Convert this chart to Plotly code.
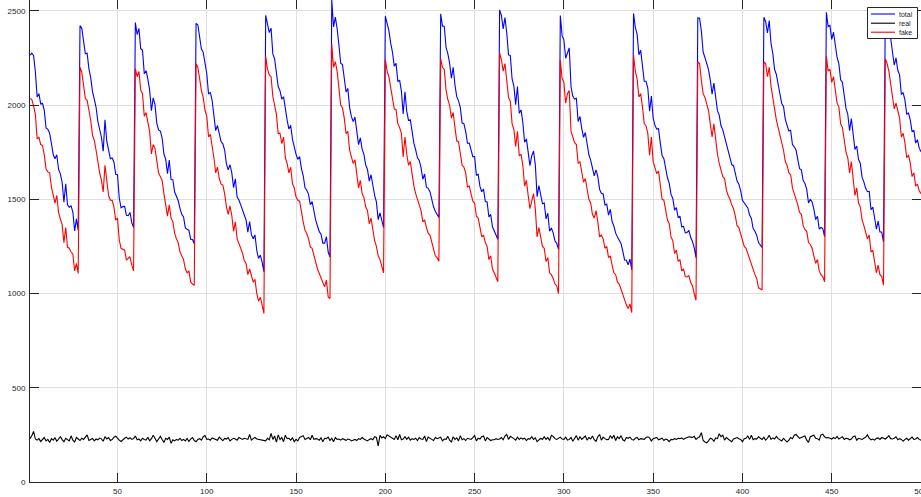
import plotly.graph_objects as go

# ---- data ----
# "fake" series, one list per sawtooth cycle (x = 1..500)
fake_c0 = [2034, 2030, 1995, 1950, 1820, 1830, 1790, 1785, 1735, 1660, 1645, 1640, 1565, 1515,
           1480, 1520, 1430, 1395, 1365, 1270, 1350, 1245, 1240, 1220, 1210, 1120, 1160, 1106]
fake_c1 = [2201, 2175, 2113, 2034, 2025, 1972, 1919, 1840, 1813, 1760, 1689, 1640, 1600, 1539,
           1680, 1580, 1520, 1495, 1494, 1460, 1389, 1400, 1283, 1240, 1235, 1230, 1177, 1185,
           1195, 1150, 1120]
fake_c2 = [2193, 2150, 2178, 2080, 2060, 1940, 1960, 1900, 1860, 1740, 1790, 1770, 1690, 1640,
           1620, 1600, 1530, 1480, 1410, 1470, 1400, 1380, 1320, 1290, 1270, 1220, 1200, 1180,
           1130, 1110, 1120, 1060, 1050, 1044]
fake_c3 = [2219, 2200, 2140, 2075, 2040, 1972, 1940, 1830, 1845, 1790, 1720, 1640, 1670, 1610,
           1580, 1575, 1530, 1460, 1420, 1465, 1415, 1330, 1380, 1290, 1260, 1240, 1215, 1175,
           1160, 1100, 1130, 1090, 1060, 1075, 1000, 960, 980, 940, 894]
fake_c4 = [2258, 2190, 2160, 2150, 2045, 2000, 1950, 1848, 1850, 1795, 1830, 1720, 1690, 1640,
           1670, 1583, 1560, 1512, 1494, 1490, 1424, 1380, 1336, 1318, 1290, 1247, 1240, 1200,
           1159, 1130, 1106, 1080, 1053, 1035, 1071, 982, 973]
fake_c5 = [2325, 2200, 2230, 2180, 2090, 2000, 1985, 1930, 1848, 1860, 1760, 1720, 1690, 1710,
           1640, 1560, 1600, 1530, 1510, 1460, 1440, 1370, 1400, 1340, 1280, 1250, 1200, 1180,
           1150, 1109]
fake_c6 = [2241, 2180, 2150, 2090, 2050, 1980, 1975, 1900, 1880, 1850, 1724, 1830, 1740, 1680,
           1700, 1630, 1570, 1530, 1500, 1470, 1440, 1380, 1390, 1350, 1320, 1310, 1270, 1240,
           1200, 1190, 1171]
fake_c7 = [2246, 2200, 2190, 2080, 2030, 2000, 1930, 1960, 1880, 1810, 1804, 1740, 1680, 1671,
           1640, 1565, 1570, 1530, 1490, 1480, 1410, 1400, 1340, 1300, 1310, 1270, 1250, 1180,
           1200, 1130, 1110, 1080, 1062]
fake_c8 = [2276, 2240, 2180, 2220, 2130, 2040, 2020, 1900, 1870, 1780, 1860, 1730, 1740, 1680,
           1570, 1600, 1520, 1450, 1490, 1530, 1450, 1300, 1350, 1290, 1250, 1240, 1170, 1190,
           1110, 1100, 1080, 1050, 1040, 1000]
fake_c9 = [2237, 2140, 2120, 2010, 2060, 2077, 1860, 1830, 1800, 1790, 1690, 1700, 1650, 1590,
           1610, 1560, 1500, 1480, 1420, 1400, 1440, 1380, 1300, 1310, 1290, 1240, 1250, 1190,
           1200, 1150, 1110, 1100, 1060, 1050, 1020, 1000, 960, 940, 920, 945, 899]
fake_c10 = [2264, 2180, 2140, 2043, 2060, 1990, 1900, 1890, 1850, 1733, 1830, 1700, 1660, 1636,
            1650, 1570, 1500, 1495, 1430, 1390, 1370, 1300, 1280, 1212, 1230, 1170, 1180, 1120,
            1130, 1090, 1088, 1095, 1060, 1040, 1000, 964]
fake_c11 = [2228, 2220, 2130, 2060, 2040, 2010, 1970, 1900, 1830, 1900, 1800, 1740, 1690, 1650,
            1620, 1610, 1550, 1520, 1500, 1470, 1450, 1410, 1360, 1350, 1320, 1280, 1250, 1240,
            1210, 1190, 1150, 1120, 1100, 1080, 1030, 1025, 1018]
fake_c12 = [2228, 2220, 2150, 2200, 2100, 2040, 1960, 1920, 1880, 1840, 1790, 1760, 1700, 1680,
            1640, 1630, 1560, 1530, 1510, 1470, 1430, 1420, 1360, 1340, 1330, 1270, 1260, 1240,
            1200, 1160, 1180, 1120, 1100, 1090, 1062]
fake_c13 = [2258, 2180, 2190, 2120, 2150, 2080, 2010, 1990, 1900, 1880, 1820, 1750, 1720, 1640,
            1700, 1610, 1520, 1560, 1480, 1460, 1390, 1360, 1320, 1290, 1310, 1220, 1230, 1180,
            1110, 1150, 1100, 1090, 1044]
fake_c14 = [2246, 2220, 2180, 2120, 2050, 1980, 2010, 1960, 1930, 1830, 1850, 1800, 1720, 1735,
            1690, 1620, 1640, 1570, 1580, 1545, 1530]

# "real" series (x = 1..500)
real = [
    230, 245, 268, 228, 222, 230, 215, 224, 236, 218, 226, 210, 230, 222, 235, 216, 228, 240, 225, 214, 232, 226, 218, 245, 222,
    212, 236, 228, 220, 232, 226, 238, 250, 220, 226, 231, 218, 228, 224, 233, 229, 216, 241, 228, 236, 220, 225, 238, 243, 230,
    222, 215, 226, 232, 238, 228, 235, 226, 230, 244, 224, 228, 218, 232, 226, 222, 237, 219, 230, 248, 232, 214, 228, 242, 225,
    210, 232, 226, 238, 205, 224, 218, 226, 222, 232, 220, 226, 218, 231, 215, 228, 236, 220, 214, 226, 230, 222, 240, 246, 226,
    228, 222, 234, 230, 224, 221, 238, 226, 219, 231, 228, 236, 218, 226, 232, 228, 222, 236, 230, 226, 232, 230, 226, 252, 222,
    230, 236, 228, 226, 224, 226, 222, 218, 232, 224, 258, 226, 244, 212, 250, 226, 236, 214, 248, 230, 232, 222, 234, 214, 226,
    218, 236, 240, 246, 226, 230, 236, 224, 248, 226, 230, 228, 222, 234, 214, 232, 230, 238, 220, 232, 214, 236, 226, 228, 222,
    230, 224, 221, 228, 226, 218, 222, 226, 220, 230, 226, 236, 228, 222, 218, 226, 230, 224, 240, 236, 192, 248, 234, 240, 230,
    250, 244, 238, 230, 226, 246, 224, 252, 224, 228, 240, 226, 238, 222, 230, 226, 232, 220, 236, 228, 226, 244, 214, 238, 230,
    226, 220, 236, 230, 232, 238, 218, 228, 226, 242, 222, 212, 240, 226, 234, 218, 246, 224, 230, 220, 232, 228, 226, 236, 246,
    218, 232, 228, 240, 244, 218, 236, 226, 220, 224, 224, 230, 226, 228, 236, 224, 244, 252, 226, 242, 238, 230, 222, 238, 226,
    234, 228, 232, 220, 230, 228, 240, 226, 234, 214, 222, 232, 226, 240, 226, 236, 220, 248, 242, 230, 226, 234, 238, 228, 226,
    238, 222, 226, 236, 216, 232, 246, 222, 240, 226, 238, 244, 222, 236, 228, 244, 224, 216, 240, 252, 222, 238, 230, 224, 226,
    246, 232, 248, 220, 240, 230, 246, 224, 218, 236, 232, 238, 226, 222, 232, 236, 224, 230, 228, 226, 236, 240, 234, 218, 230,
    232, 236, 224, 228, 232, 220, 228, 224, 214, 226, 224, 230, 226, 232, 230, 234, 226, 232, 236, 240, 238, 236, 242, 226, 234,
    240, 262, 220, 212, 208, 218, 232, 228, 216, 234, 230, 256, 240, 248, 222, 236, 226, 220, 214, 228, 232, 236, 230, 226, 214,
    230, 232, 244, 226, 248, 224, 230, 228, 240, 232, 226, 238, 222, 232, 248, 226, 234, 228, 242, 230, 226, 218, 232, 224, 212,
    222, 236, 230, 248, 252, 240, 232, 236, 240, 244, 222, 210, 240, 246, 248, 232, 230, 222, 250, 254, 240, 234, 236, 232, 228,
    236, 230, 242, 228, 234, 240, 226, 232, 230, 224, 228, 240, 244, 222, 232, 230, 226, 232, 238, 250, 232, 224, 228, 222, 232,
    234, 226, 236, 230, 228, 236, 246, 230, 228, 232, 240, 224, 230, 226, 216, 226, 232, 222, 230, 238, 226, 228, 236, 226, 222,
]

x_ticks = [50, 100, 150, 200, 250, 300, 350, 400, 450, 500]
y_ticks = [0, 500, 1000, 1500, 2000, 2500]
series_names = ["total", "real", "fake"]
series_colors = ["#0000ff", "#000000", "#ff0000"]

# ---- assemble ----
fake = []
for c in [fake_c0, fake_c1, fake_c2, fake_c3, fake_c4, fake_c5, fake_c6, fake_c7,
          fake_c8, fake_c9, fake_c10, fake_c11, fake_c12, fake_c13, fake_c14]:
    fake.extend(c)
n = min(len(fake), len(real))
fake = fake[:n]
real = real[:n]
total = [r + f for r, f in zip(real, fake)]
x = list(range(1, n + 1))
values = [total, real, fake]

W, H = 921, 497
ML, MR, MT, MB = 30, 0, 0, 15
PW, PH = W - ML - MR, H - MT - MB

AX = "#262626"
GRID = "#dfdfdf"
FONT = "Liberation Sans, Arial, sans-serif"

fig = go.Figure()
for name, col, ys in zip(series_names, series_colors, values):
    fig.add_trace(go.Scatter(x=x, y=ys, mode="lines", name=name,
                             line=dict(color=col, width=1.1), showlegend=False))

axis_common = dict(
    showline=True, linecolor=AX, linewidth=1, mirror="ticks",
    ticks="inside", ticklen=9, tickwidth=1, tickcolor=AX,
    showgrid=True, gridcolor=GRID, gridwidth=1, zeroline=False,
    tickfont=dict(family=FONT, size=8, color=AX),
    automargin=False, ticklabeloverflow="allow",
)
fig.update_xaxes(range=[1, n], tickmode="array", tickvals=x_ticks,
                 ticktext=[str(v) for v in x_ticks], ticklabelstandoff=1, **axis_common)
fig.update_yaxes(range=[0, max(total)], tickmode="array", tickvals=y_ticks,
                 ticktext=[str(v) for v in y_ticks], ticklabelstandoff=2, **axis_common)

# ---- compact MATLAB-style legend box (top right, inside axes) ----
def px(xp):
    return (xp - ML) / PW

def py(yp):
    return 1 - (yp - MT) / PH

box = dict(x0=867.5, x1=917.5, y0=7.5, y1=38.5)
shapes = [dict(type="rect", xref="paper", yref="paper",
               x0=px(box["x0"]), x1=px(box["x1"]), y0=py(box["y1"]), y1=py(box["y0"]),
               line=dict(color=AX, width=1), fillcolor="white", layer="above")]
annotations = []
row_y = [14, 23.2, 32.2]
for name, col, ry in zip(series_names, series_colors, row_y):
    shapes.append(dict(type="line", xref="paper", yref="paper",
                       x0=px(871), x1=px(895), y0=py(ry), y1=py(ry),
                       line=dict(color=col, width=1.1), layer="above"))
    annotations.append(dict(xref="paper", yref="paper", x=px(896.5), y=py(ry),
                            xanchor="left", yanchor="middle", text=name, showarrow=False,
                            font=dict(family=FONT, size=7, color=AX)))

fig.update_layout(
    width=W, height=H,
    margin=dict(l=ML, r=MR, t=MT, b=MB, autoexpand=False),
    paper_bgcolor="white", plot_bgcolor="white",
    showlegend=False,
    shapes=shapes, annotations=annotations,
)

fig.write_html("out.html", config={"displayModeBar": False},
               post_script="document.body.style.margin='0';document.body.style.overflow='hidden';")
